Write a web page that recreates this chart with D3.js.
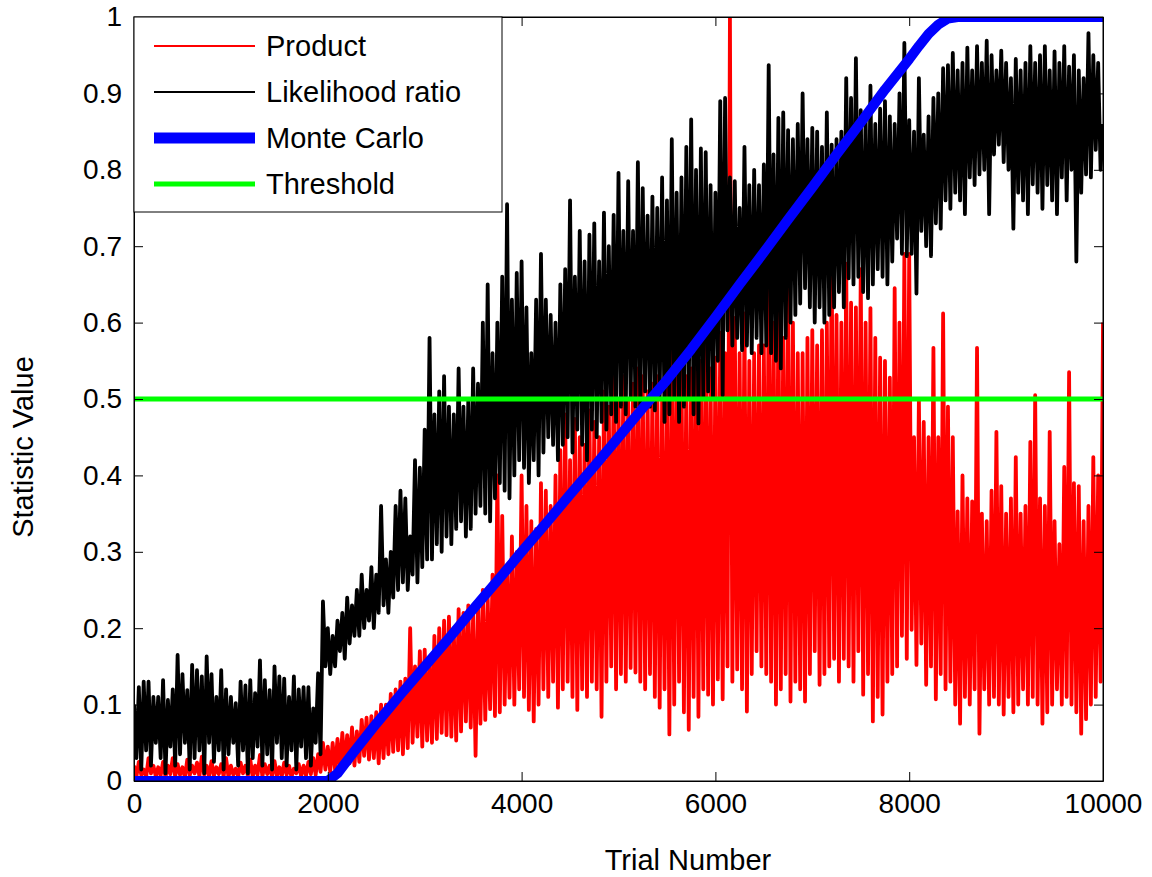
<!DOCTYPE html>
<html><head><meta charset="utf-8">
<script src="https://cdn.jsdelivr.net/npm/d3@7"></script>
<style>
body{margin:0;background:#fff}
text{font-family:"Liberation Sans",Arial,Helvetica,sans-serif}
</style>
</head><body>
<svg id="chart" width="1152" height="877"></svg>
<script>
// ---------- data ----------
const seriesNames = ["Product", "Likelihood ratio", "Monte Carlo", "Threshold"];
const xTicks = [0, 2000, 4000, 6000, 8000, 10000];
const yTicks = [0, 0.1, 0.2, 0.3, 0.4, 0.5, 0.6, 0.7, 0.8, 0.9, 1];
const trialStep = 50; // peaks read every 50 trials, troughs half-way between

// Likelihood ratio (black): local peaks at trials 0,50,...,9950
const lrPeaks = [
0.10,0.123,0.13,0.13,0.11,0.11,0.132,0.106,0.12,0.165,0.14,0.119,0.152,0.145,0.137,0.163,0.14,0.11,0.145,0.12,
0.11,0.102,0.13,0.125,0.132,0.115,0.158,0.132,0.119,0.15,0.137,0.134,0.11,0.137,0.12,0.123,0.123,0.095,0.141,0.235,
0.20,0.19,0.21,0.22,0.24,0.23,0.25,0.27,0.25,0.28,0.27,0.36,0.29,0.30,0.36,0.38,0.37,0.32,0.42,0.41,
0.46,0.58,0.48,0.51,0.53,0.49,0.48,0.54,0.49,0.50,0.54,0.52,0.60,0.65,0.56,0.60,0.66,0.755,0.63,0.665,
0.68,0.62,0.56,0.63,0.69,0.63,0.61,0.60,0.65,0.67,0.76,0.66,0.72,0.68,0.715,0.73,0.68,0.744,0.70,0.741,
0.796,0.72,0.785,0.72,0.81,0.776,0.74,0.765,0.75,0.79,0.76,0.84,0.77,0.79,0.83,0.866,0.80,0.828,0.823,0.78,
0.77,0.89,0.894,0.79,0.785,0.75,0.83,0.78,0.80,0.78,0.807,0.937,0.82,0.868,0.875,0.852,0.84,0.86,0.90,0.84,
0.855,0.85,0.83,0.875,0.833,0.84,0.85,0.92,0.894,0.946,0.878,0.87,0.91,0.86,0.88,0.89,0.87,0.86,0.90,0.966,
0.865,0.85,0.92,0.846,0.87,0.894,0.90,0.933,0.937,0.953,0.93,0.94,0.96,0.93,0.962,0.94,0.969,0.95,0.93,0.956,
0.94,0.92,0.945,0.93,0.94,0.962,0.94,0.95,0.962,0.93,0.955,0.94,0.962,0.935,0.95,0.93,0.92,0.979,0.95,0.94
];
// Likelihood ratio (black): local troughs at trials 25,75,...,9975
const lrTroughs = [
0.03,0.015,0.04,0.02,0.05,0.03,0.01,0.045,0.02,0.035,0.05,0.015,0.03,0.04,0.01,0.05,0.025,0.04,0.015,0.035,
0.05,0.02,0.04,0.01,0.03,0.045,0.02,0.035,0.015,0.05,0.03,0.02,0.04,0.015,0.045,0.03,0.02,0.05,0.035,0.15,
0.14,0.15,0.17,0.16,0.18,0.19,0.19,0.2,0.21,0.2,0.22,0.23,0.22,0.24,0.25,0.26,0.25,0.27,0.26,0.28,
0.29,0.29,0.31,0.3,0.32,0.31,0.33,0.34,0.32,0.33,0.35,0.36,0.35,0.34,0.37,0.39,0.38,0.37,0.4,0.42,
0.41,0.39,0.42,0.40,0.43,0.45,0.44,0.42,0.44,0.45,0.43,0.46,0.44,0.42,0.46,0.45,0.47,0.46,0.48,0.47,
0.49,0.48,0.5,0.49,0.48,0.51,0.49,0.485,0.5,0.47,0.48,0.5,0.47,0.49,0.5,0.48,0.468,0.5,0.51,0.5,
0.55,0.505,0.59,0.57,0.58,0.564,0.57,0.56,0.58,0.56,0.57,0.56,0.55,0.54,0.58,0.6,0.61,0.625,0.645,0.62,
0.6,0.62,0.6,0.61,0.62,0.64,0.62,0.658,0.65,0.66,0.64,0.632,0.65,0.67,0.66,0.65,0.68,0.71,0.69,0.687,
0.69,0.638,0.72,0.70,0.687,0.73,0.723,0.76,0.749,0.77,0.76,0.742,0.79,0.78,0.794,0.80,0.742,0.82,0.833,0.81,
0.80,0.723,0.77,0.76,0.742,0.781,0.77,0.749,0.78,0.76,0.742,0.79,0.76,0.80,0.68,0.77,0.794,0.79,0.826,0.80
];
const lrLast = 0.86;

// Product (red): local peaks at trials 0,50,...,9950
const prodPeaks = [
0.02,0.025,0.015,0.03,0.02,0.018,0.025,0.02,0.03,0.022,0.018,0.028,0.02,0.024,0.032,0.02,0.026,0.018,0.022,0.03,
0.02,0.016,0.024,0.02,0.028,0.02,0.034,0.022,0.02,0.026,0.018,0.024,0.02,0.016,0.022,0.02,0.025,0.03,0.035,0.05,
0.045,0.05,0.055,0.063,0.06,0.07,0.065,0.08,0.083,0.085,0.09,0.10,0.10,0.114,0.12,0.13,0.134,0.20,0.15,0.17,
0.172,0.16,0.19,0.2,0.21,0.215,0.2,0.225,0.22,0.23,0.22,0.235,0.25,0.24,0.27,0.40,0.347,0.28,0.32,0.30,
0.40,0.36,0.34,0.33,0.39,0.38,0.36,0.40,0.433,0.48,0.42,0.474,0.45,0.44,0.485,0.47,0.45,0.51,0.49,0.53,
0.5,0.53,0.5,0.52,0.54,0.53,0.51,0.52,0.53,0.50,0.53,0.57,0.573,0.55,0.53,0.54,0.57,0.55,0.578,0.54,
0.554,0.587,0.56,1.0,0.606,0.56,0.612,0.55,0.56,0.57,0.57,0.651,0.6,0.625,0.58,0.658,0.6,0.56,0.56,0.58,
0.59,0.57,0.59,0.60,0.69,0.61,0.6,0.677,0.626,0.62,0.67,0.60,0.619,0.58,0.554,0.55,0.528,0.645,0.6,0.69,
0.69,0.45,0.5,0.47,0.45,0.567,0.45,0.612,0.49,0.45,0.353,0.40,0.37,0.366,0.567,0.35,0.34,0.38,0.457,0.386,
0.35,0.37,0.424,0.35,0.36,0.444,0.505,0.37,0.36,0.457,0.34,0.31,0.411,0.535,0.39,0.386,0.34,0.36,0.424,0.4
];
// Product (red): local troughs at trials 25,75,...,9975
const prodTroughs = [
0.006,0.008,0.005,0.01,0.006,0.007,0.005,0.009,0.006,0.008,0.005,0.007,0.01,0.006,0.008,0.005,0.007,0.009,0.006,0.005,
0.008,0.006,0.01,0.007,0.005,0.008,0.006,0.009,0.005,0.007,0.006,0.008,0.005,0.01,0.006,0.007,0.009,0.008,0.012,0.015,
0.012,0.015,0.013,0.02,0.023,0.02,0.025,0.033,0.028,0.03,0.023,0.03,0.035,0.038,0.04,0.035,0.043,0.05,0.058,0.045,
0.053,0.05,0.055,0.063,0.06,0.058,0.053,0.065,0.078,0.07,0.033,0.075,0.08,0.094,0.085,0.09,0.1,0.109,0.1,0.12,
0.11,0.093,0.078,0.1,0.12,0.11,0.13,0.096,0.12,0.13,0.11,0.093,0.12,0.11,0.13,0.12,0.084,0.13,0.15,0.12,
0.14,0.13,0.148,0.142,0.13,0.12,0.14,0.11,0.096,0.12,0.061,0.1,0.13,0.09,0.067,0.11,0.084,0.12,0.113,0.1,
0.133,0.107,0.15,0.13,0.146,0.12,0.091,0.14,0.17,0.15,0.14,0.13,0.1,0.12,0.14,0.104,0.13,0.12,0.104,0.14,
0.17,0.126,0.14,0.15,0.16,0.13,0.16,0.15,0.13,0.17,0.113,0.14,0.078,0.11,0.087,0.13,0.14,0.15,0.19,0.16,
0.198,0.152,0.18,0.126,0.15,0.107,0.14,0.12,0.13,0.1,0.075,0.11,0.1,0.12,0.062,0.12,0.1,0.11,0.1,0.087,
0.11,0.09,0.1,0.12,0.1,0.11,0.1,0.075,0.09,0.1,0.12,0.1,0.11,0.1,0.09,0.062,0.081,0.1,0.11,0.13
];
const prodLast = 0.6;

// Monte Carlo (blue)
const mcTrials = [0,1000,2000,2100,2250,2500,2750,3000,3250,3500,3750,4000,4250,4500,4750,5000,5250,5500,5750,6000,6250,6500,6750,7000,7250,7500,7750,8000,8100,8200,8300,8400,8500,9000,10000];
const mcValues = [0,0,0,0.01,0.035,0.075,0.113,0.15,0.187,0.225,0.262,0.30,0.337,0.375,0.412,0.45,0.488,0.525,0.565,0.607,0.65,0.692,0.735,0.777,0.82,0.862,0.905,0.945,0.962,0.978,0.99,0.998,1,1,1];

// Threshold (green)
const thresholdTrials = [0, 10000];
const thresholdValues = [0.5, 0.5];

const colors = ["#ff0000", "#000000", "#0000ff", "#00ff00"];
const widths = [3.8, 3.8, 10, 5];

// ---------- build point lists ----------
function zigzag(peaks, troughs, last) {
  const pts = [];
  peaks.forEach((p, i) => {
    pts.push([i * trialStep, p]);
    pts.push([i * trialStep + trialStep / 2, troughs[i]]);
  });
  pts.push([10000, last]);
  return pts;
}
const series = [
  zigzag(prodPeaks, prodTroughs, prodLast),
  zigzag(lrPeaks, lrTroughs, lrLast),
  mcTrials.map((t, i) => [t, mcValues[i]]),
  thresholdTrials.map((t, i) => [t, thresholdValues[i]])
];

// ---------- drawing ----------
const L = 134, R = 1103, T = 17, B = 781;
const svg = d3.select("#chart");
const x = d3.scaleLinear().domain([0, 10000]).range([L, R]);
const y = d3.scaleLinear().domain([0, 1]).range([B, T]);

svg.append("rect").attr("width", 1152).attr("height", 877).attr("fill", "#fff");

svg.append("clipPath").attr("id", "plotclip")
  .append("rect").attr("x", L).attr("y", T).attr("width", R - L).attr("height", B - T);

const line = d3.line().x(d => x(d[0])).y(d => y(d[1]));
const g = svg.append("g").attr("clip-path", "url(#plotclip)");
series.forEach((s, i) => {
  g.append("path").datum(s).attr("d", line)
    .attr("fill", "none").attr("stroke", colors[i]).attr("stroke-width", widths[i])
    .attr("stroke-linejoin", "round");
});

const FS = 28;
const tick = 9;
const axB = svg.append("g").attr("transform", `translate(0,${B})`)
  .call(d3.axisBottom(x).tickValues(xTicks).tickFormat(d3.format("d")).tickSizeInner(-tick).tickSizeOuter(0).tickPadding(12));
const axT = svg.append("g").attr("transform", `translate(0,${T})`)
  .call(d3.axisTop(x).tickValues(xTicks).tickFormat("").tickSizeInner(-tick).tickSizeOuter(0));
const axLf = svg.append("g").attr("transform", `translate(${L},0)`)
  .call(d3.axisLeft(y).tickValues(yTicks).tickFormat(d => d3.format("")(+d.toFixed(1))).tickSizeInner(-tick).tickSizeOuter(0).tickPadding(12));
const axRt = svg.append("g").attr("transform", `translate(${R},0)`)
  .call(d3.axisRight(y).tickValues(yTicks).tickFormat("").tickSizeInner(-tick).tickSizeOuter(0));
[axB, axT, axLf, axRt].forEach(a => {
  a.selectAll("text").attr("font-size", FS).attr("fill", "#000")
    .attr("font-family", '"Liberation Sans",Arial,sans-serif');
  a.selectAll("line").attr("stroke", "#000");
  a.select(".domain").attr("stroke", "#000");
});

svg.append("rect").attr("x", L).attr("y", T).attr("width", R - L).attr("height", B - T)
  .attr("fill", "none").attr("stroke", "#000").attr("stroke-width", 1);

// axis labels
svg.append("text").attr("x", 688).attr("y", 870).attr("text-anchor", "middle")
  .attr("font-size", 29).text("Trial Number");
svg.append("text").attr("transform", "translate(33,447) rotate(-90)").attr("text-anchor", "middle")
  .attr("font-size", 29).text("Statistic Value");

// legend
const lg = svg.append("g");
lg.append("rect").attr("x", 134).attr("y", 17).attr("width", 368).attr("height", 195)
  .attr("fill", "#fff").attr("stroke", "#000").attr("stroke-width", 1);
const rowsY = [46, 92, 138, 184];
seriesNames.forEach((n, i) => {
  lg.append("line").attr("x1", 154).attr("x2", 255).attr("y1", rowsY[i]).attr("y2", rowsY[i])
    .attr("stroke", colors[i]).attr("stroke-width", i === 2 ? 11 : (i === 3 ? 5 : 2));
  lg.append("text").attr("x", 266).attr("y", rowsY[i]).attr("dy", "0.35em")
    .attr("font-size", 29).text(n);
});
</script>
</body></html>
